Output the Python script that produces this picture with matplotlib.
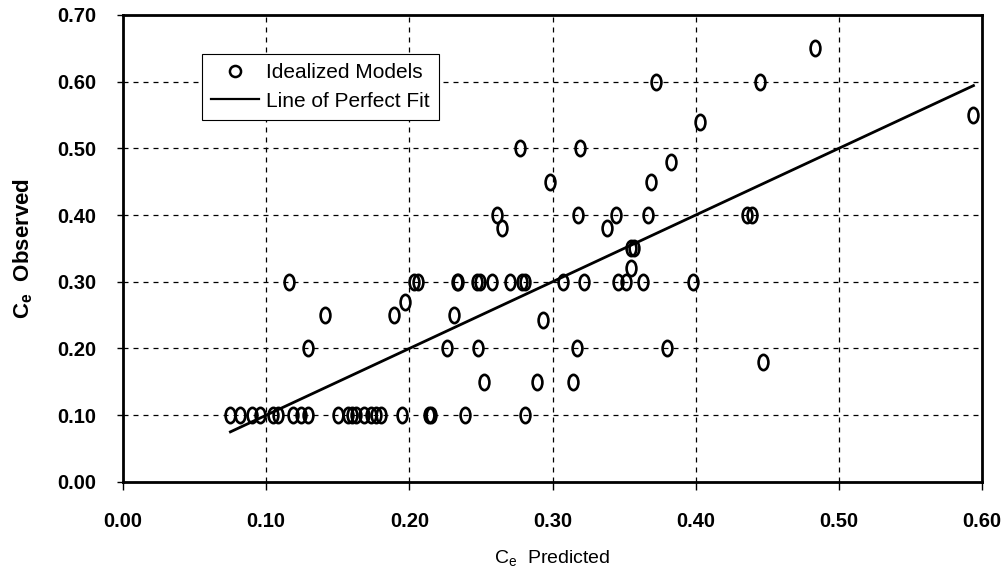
import numpy as np
import matplotlib
matplotlib.use('Agg')
import matplotlib.pyplot as plt
from matplotlib.path import Path
from matplotlib.lines import Line2D

plt.rcParams['font.family'] = ['Liberation Sans', 'DejaVu Sans']
plt.rcParams['mathtext.default'] = 'regular'

# Ce predicted / observed
predicted = [
    # observed 0.10 row
    0.075, 0.082, 0.090, 0.096, 0.105, 0.108, 0.119, 0.124, 0.129, 0.150, 0.157,
    0.160, 0.163, 0.168, 0.173, 0.177, 0.180, 0.195, 0.214, 0.215, 0.239, 0.281,
    # observed 0.15 - 0.27
    0.252, 0.289, 0.314, 0.447,
    0.129, 0.226, 0.248, 0.317, 0.380,
    0.293, 0.141, 0.189, 0.231, 0.197,
    # observed 0.30 row
    0.116, 0.203, 0.206, 0.233, 0.234, 0.247, 0.249, 0.258, 0.270, 0.279, 0.281,
    0.307, 0.322, 0.346, 0.351, 0.363, 0.398,
    # observed above 0.30
    0.355, 0.355, 0.357, 0.265, 0.338,
    0.261, 0.318, 0.344, 0.367, 0.436, 0.439,
    0.298, 0.369, 0.383, 0.277, 0.319, 0.403, 0.594, 0.372, 0.445, 0.483,
]
observed = [
    0.10, 0.10, 0.10, 0.10, 0.10, 0.10, 0.10, 0.10, 0.10, 0.10, 0.10,
    0.10, 0.10, 0.10, 0.10, 0.10, 0.10, 0.10, 0.10, 0.10, 0.10, 0.10,
    0.15, 0.15, 0.15, 0.18,
    0.20, 0.20, 0.20, 0.20, 0.20,
    0.243, 0.25, 0.25, 0.25, 0.27,
    0.30, 0.30, 0.30, 0.30, 0.30, 0.30, 0.30, 0.30, 0.30, 0.30, 0.30,
    0.30, 0.30, 0.30, 0.30, 0.30, 0.30,
    0.32, 0.35, 0.35, 0.38, 0.38,
    0.40, 0.40, 0.40, 0.40, 0.40, 0.40,
    0.45, 0.45, 0.48, 0.50, 0.50, 0.54, 0.55, 0.60, 0.60, 0.65,
]

xticks = [0.0, 0.1, 0.2, 0.3, 0.4, 0.5, 0.6]
yticks = [0.0, 0.1, 0.2, 0.3, 0.4, 0.5, 0.6, 0.7]

# tall open ellipse marker like the original
circ = Path.unit_circle()
ellipse = Path(circ.vertices * np.array([0.64, 1.0]), circ.codes)

fig = plt.figure(figsize=(10.06, 5.73), dpi=100)
ax = fig.add_axes([0.1223, 0.159, 0.8539, 0.815])

ax.plot(predicted, observed, linestyle='none', marker=ellipse, markersize=11,
        markerfacecolor='none', markeredgecolor='black', markeredgewidth=1.9,
        zorder=3)

fit = [min(predicted), max(predicted)]
ax.plot(fit, fit, color='black', linewidth=2.0, zorder=2)

ax.set_xlim(0, 0.6)
ax.set_ylim(0, 0.7)
ax.set_xticks(xticks)
ax.set_yticks(yticks)
ax.set_xticklabels(['%.2f' % v for v in xticks], fontweight='bold', fontsize=14.5)
ax.set_yticklabels(['%.2f' % v for v in yticks], fontweight='bold', fontsize=14.5)
ax.tick_params(axis='x', direction='out', length=6, width=1, pad=16)
ax.tick_params(axis='y', direction='out', length=4, width=1, pad=15.5)

ax.grid(True, color='black', linestyle=(0, (4, 4)), linewidth=0.9)
ax.set_axisbelow(True)
for s in ax.spines.values():
    s.set_linewidth(2.0)

ax.set_xlabel('C$_e$  Predicted', fontsize=14, labelpad=12)
ax.set_ylabel('C$_e$  Observed', fontsize=16, fontweight='bold', labelpad=16)

handles = [
    Line2D([], [], linestyle='none', marker='o', markersize=8, markerfacecolor='none',
           markeredgecolor='black', markeredgewidth=1.8),
    Line2D([], [], color='black', linewidth=1.6),
]
leg = ax.legend(handles, ['Idealized Models', 'Line of Perfect Fit'],
                loc='upper left', bbox_to_anchor=(0.092, 0.9165), borderaxespad=0,
                fancybox=False, edgecolor='black', framealpha=1, fontsize=15,
                handlelength=2.3, handletextpad=0.3, borderpad=0.45, labelspacing=0.45)
leg.get_frame().set_linewidth(0.8)

fig.savefig('out.png', dpi=100)
